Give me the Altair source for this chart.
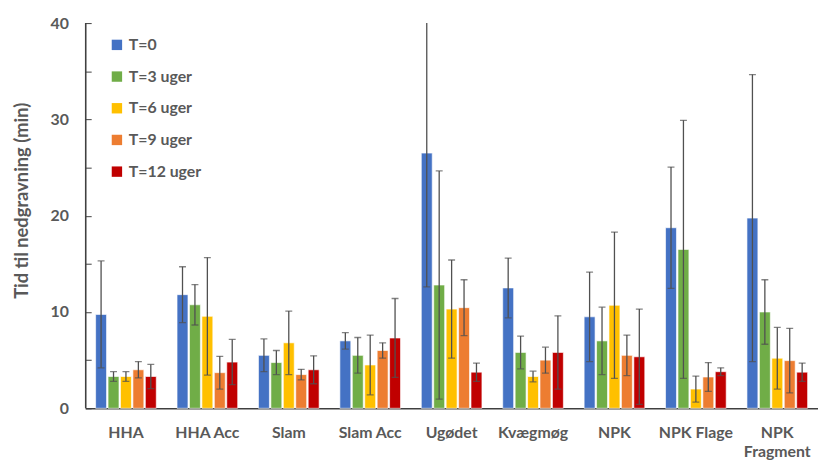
import altair as alt
import pandas as pd

categories = ["HHA", "HHA Acc", "Slam", "Slam Acc", "Ugødet", "Kvægmøg", "NPK", "NPK Flage", "NPK Fragment"]
series = ["T=0", "T=3 uger", "T=6 uger", "T=9 uger", "T=12 uger"]
colors = ["#4472C4", "#70AD47", "#FFC000", "#ED7D31", "#C00000"]

t0 = [9.75, 11.8, 5.5, 7.0, 26.5, 12.5, 9.5, 18.75, 19.75]
t3 = [3.3, 10.75, 4.75, 5.5, 12.8, 5.8, 7.0, 16.5, 10.0]
t6 = [3.3, 9.55, 6.8, 4.5, 10.3, 3.3, 10.7, 2.0, 5.2]
t9 = [4.0, 3.7, 3.5, 6.0, 10.45, 5.0, 5.5, 3.25, 4.95]
t12 = [3.3, 4.8, 4.0, 7.3, 3.75, 5.8, 5.35, 3.8, 3.75]

e0 = [5.55, 2.9, 1.7, 0.85, 13.9, 3.1, 4.65, 6.3, 14.9]
e3 = [0.5, 2.1, 1.25, 1.85, 11.85, 1.7, 3.5, 13.4, 3.35]
e6 = [0.5, 6.1, 3.3, 3.1, 5.1, 0.55, 7.6, 1.35, 3.2]
e9 = [0.85, 1.7, 0.55, 0.8, 2.9, 1.35, 2.1, 1.5, 3.35]
e12 = [1.25, 2.35, 1.45, 4.1, 0.95, 3.8, 4.95, 0.4, 0.95]

y_domain = [0, 40]
y_ticks = [0, 2.5, 5, 7.5, 10, 12.5, 15, 17.5, 20, 22.5, 25, 27.5, 30, 32.5, 35, 37.5, 40]

values = [t0, t3, t6, t9, t12]
errors = [e0, e3, e6, e9, e12]

rows = []
for s, vals, errs in zip(series, values, errors):
    for c, v, e in zip(categories, vals, errs):
        rows.append({"Behandling": c, "Tid": s, "value": v, "lo": v - e, "hi": v + e})
df = pd.DataFrame(rows)

FONT = "Lato"
TXT = "#595959"
LINE = "#404040"

yscale = alt.Scale(domain=y_domain, nice=False)

x_enc = alt.X(
    "Behandling:N", sort=categories,
    scale=alt.Scale(paddingInner=0.255, paddingOuter=0.1275),
    axis=alt.Axis(
        title=None, labelAngle=0, ticks=False, domainColor=LINE, domainWidth=1.6,
        labelPadding=17, labelFont=FONT, labelFontSize=16, labelFontWeight="bold",
        labelColor=TXT, labelLineHeight=19, labelOverlap=False,
        labelExpr="datum.label == 'NPK Fragment' ? ['NPK', 'Fragment'] : datum.label",
    ),
)
xo_enc = alt.XOffset("Tid:N", sort=series, scale=alt.Scale(paddingInner=0.12))

axis_main = alt.Axis(
    orient="left", values=y_ticks,
    labelExpr="datum.value % 10 == 0 ? datum.label : ''",
    offset=-6, tickSize=6, tickColor=LINE, tickWidth=1, domain=False, grid=False,
    labelPadding=17, labelFont=FONT, labelFontSize=16, labelFontWeight="bold", labelColor=TXT,
    title="Tid til nedgravning (min)", titleFont=FONT, titleFontSize=18.5, titleFontWeight="bold",
    titleColor=TXT, titlePadding=19, titleY=179,
)

base = alt.Chart(df).encode(x=x_enc, xOffset=xo_enc)

bars = base.mark_bar(stroke="white", strokeWidth=0.8, strokeOpacity=0.8).encode(
    y=alt.Y("value:Q", scale=yscale, axis=axis_main),
    color=alt.Color(
        "Tid:N", sort=series, scale=alt.Scale(domain=series, range=colors),
        legend=alt.Legend(
            title=None, orient="none", legendX=24, legendY=14, symbolType="square",
            symbolSize=110, symbolStrokeWidth=0, labelFont=FONT, labelFontSize=16,
            labelFontWeight="bold", labelColor=TXT, rowPadding=16, labelOffset=4, padding=0,
        ),
    ),
)

rules = base.mark_rule(color="#505050", strokeWidth=1.3, clip=True).encode(
    y=alt.Y("lo:Q", scale=yscale),
    y2="hi:Q",
)
cap_hi = base.mark_tick(color="#505050", thickness=1.3, size=7, clip=True).encode(
    y=alt.Y("hi:Q", scale=yscale),
)
cap_lo = base.mark_tick(color="#505050", thickness=1.3, size=7, clip=True).encode(
    y=alt.Y("lo:Q", scale=yscale),
)

# y-axis line (ticks point inward, so the domain line is drawn separately along the y scale)
y_axis_line = alt.Chart(pd.DataFrame({"d": y_domain})).mark_line(
    color=LINE, strokeWidth=1.6
).encode(
    x=alt.value(0.5),
    y=alt.Y("d:Q", scale=yscale),
)

chart = (
    alt.layer(bars, rules, cap_hi, cap_lo, y_axis_line)
    .properties(
        width=740, height=389,
        autosize=alt.AutoSizeParams(type="none"),
        padding={"left": 78, "top": 13, "right": 0, "bottom": 53},
    )
    .configure_view(stroke=None)
)

chart.save("out.html", embed_options={"renderer": "svg", "actions": False})
